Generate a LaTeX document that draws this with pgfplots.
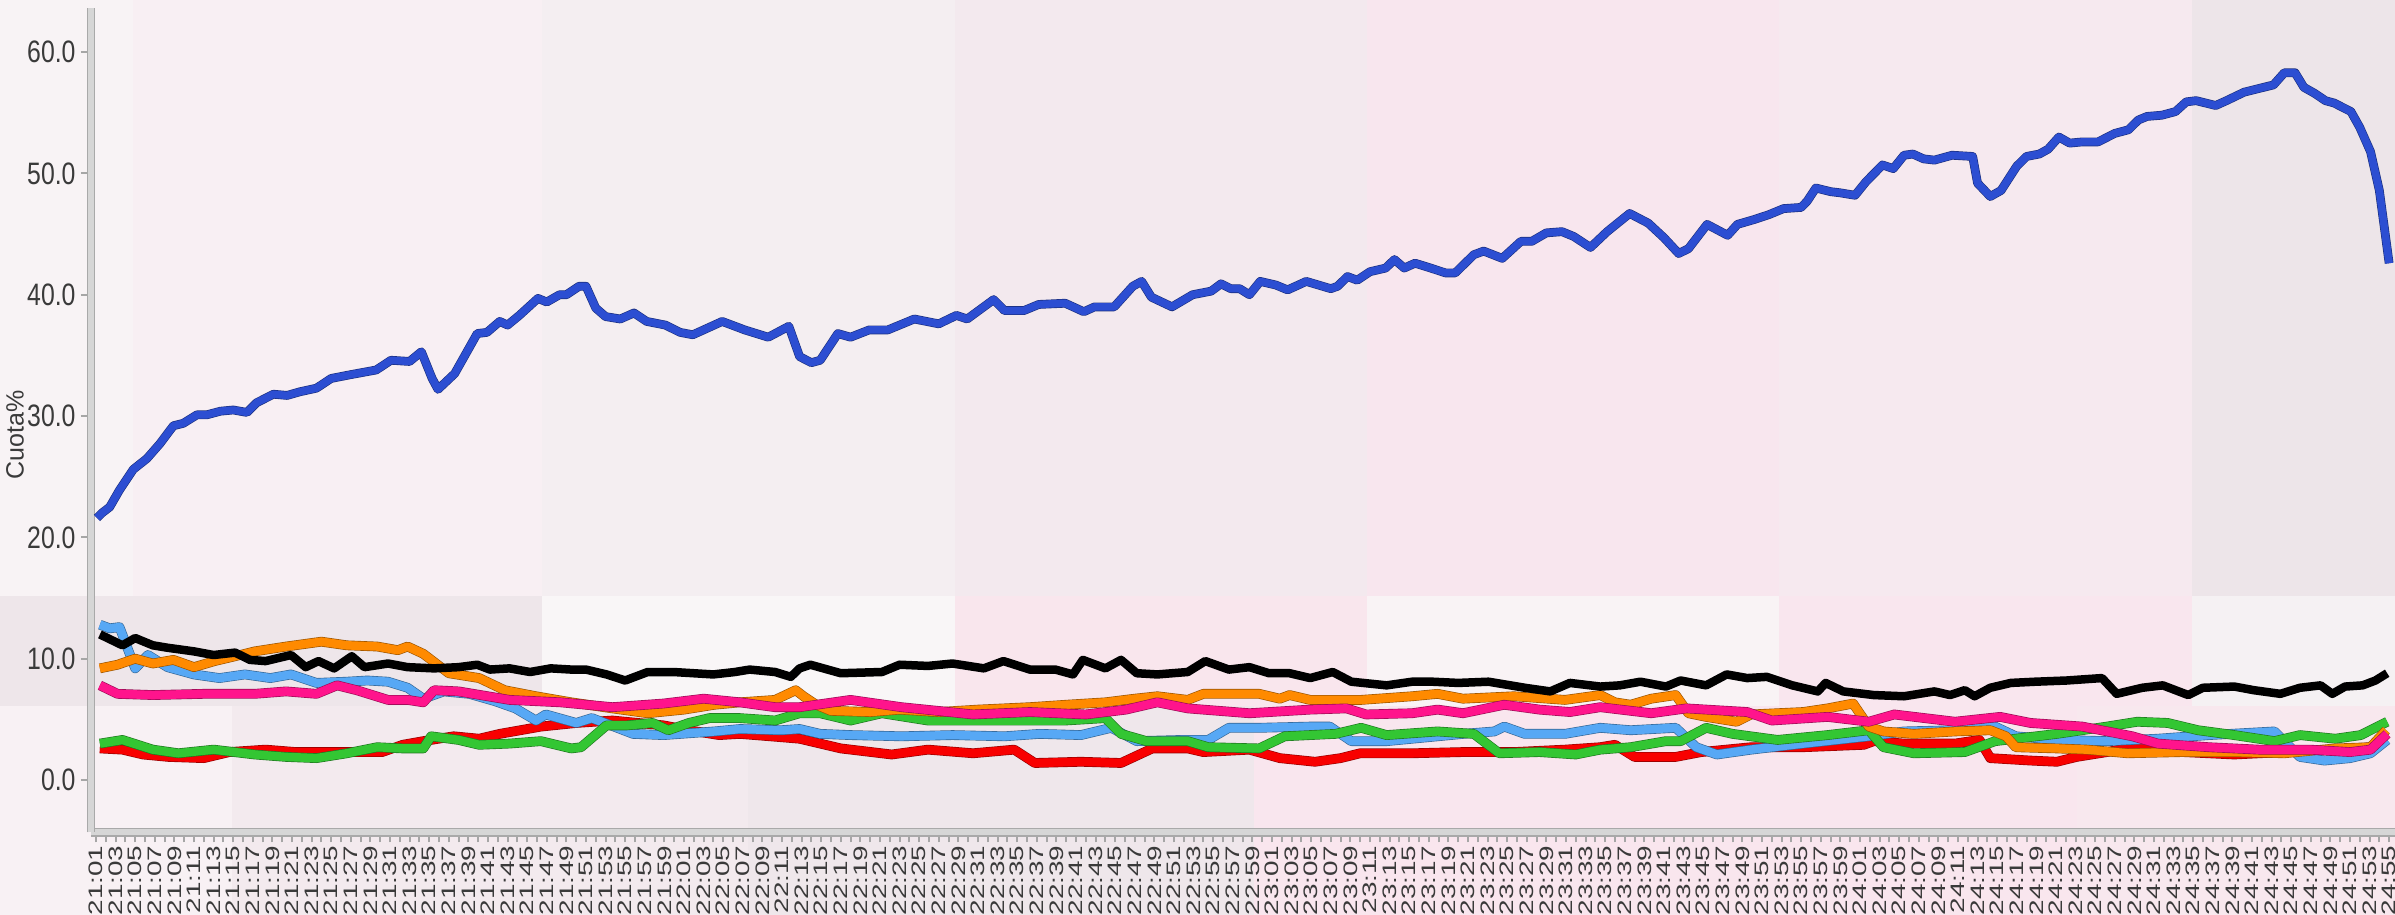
\documentclass[border=0pt]{standalone}
\usepackage{pgfplots}
\pgfplotsset{compat=1.18}
\usepackage{fontspec}
\setmainfont{Liberation Sans}
\newfontfamily\ylabfont[FakeStretch=0.8]{Liberation Sans}
\newfontfamily\xlabfont[FakeStretch=1.43]{Liberation Sans}
\definecolor{labgray}{HTML}{3A3A3A}
\definecolor{axisgray}{HTML}{D6D6D6}
\definecolor{axisdark}{HTML}{A9A9A9}
\definecolor{cBlue}{HTML}{2C4ED2}
\definecolor{cLBlue}{HTML}{57A8F5}
\definecolor{cOrange}{HTML}{FF8A00}
\definecolor{cPink}{HTML}{FF148C}
\definecolor{cGreen}{HTML}{33C633}
\definecolor{cRed}{HTML}{F80000}
\definecolor{bgBase}{HTML}{F7F1F4}
\begin{document}
\begin{tikzpicture}
\begin{scope}[x=0.4pt,y=-0.4pt,yshift=366pt]
\fill[bgBase] (0,0) rectangle (2395,915);
% top band
\fill[fill={rgb,255:red,248;green,243;blue,245}] (0,0) rectangle (133,596);
\fill[fill={rgb,255:red,248;green,239;blue,243}] (133,0) rectangle (542,596);
\fill[fill={rgb,255:red,244;green,238;blue,241}] (542,0) rectangle (955,596);
\fill[fill={rgb,255:red,243;green,233;blue,238}] (955,0) rectangle (1367,596);
\fill[fill={rgb,255:red,248;green,230;blue,238}] (1367,0) rectangle (1779,596);
\fill[fill={rgb,255:red,246;green,233;blue,239}] (1779,0) rectangle (2192,596);
\fill[fill={rgb,255:red,237;green,229;blue,233}] (2192,0) rectangle (2395,596);
% middle band
\fill[fill={rgb,255:red,238;green,230;blue,234}] (0,596) rectangle (542,706);
\fill[fill={rgb,255:red,249;green,246;blue,247}] (542,596) rectangle (955,706);
\fill[fill={rgb,255:red,249;green,230;blue,237}] (955,596) rectangle (1367,706);
\fill[fill={rgb,255:red,249;green,243;blue,245}] (1367,596) rectangle (1779,706);
\fill[fill={rgb,255:red,249;green,230;blue,238}] (1779,596) rectangle (2192,706);
\fill[fill={rgb,255:red,245;green,241;blue,243}] (2192,596) rectangle (2395,706);
% bottom band
\fill[fill={rgb,255:red,248;green,241;blue,244}] (0,706) rectangle (232,915);
\fill[fill={rgb,255:red,243;green,234;blue,238}] (232,706) rectangle (748,915);
\fill[fill={rgb,255:red,239;green,231;blue,235}] (748,706) rectangle (1254,915);
\fill[fill={rgb,255:red,249;green,230;blue,238}] (1254,706) rectangle (2077,915);
\fill[fill={rgb,255:red,248;green,232;blue,238}] (2077,706) rectangle (2395,915);
\end{scope}
\node[rotate=90, text=labgray, font=\fontsize{10}{12}\selectfont] at (6pt,192pt) {Cuota\%};
\begin{axis}[
  at={(36.4pt,33pt)}, anchor=south west,
  scale only axis, width=921.6pt, height=329.8pt,
  xmin=0.49, xmax=235.6, ymin=-4.33, ymax=63.64,
  axis lines*=left,
  axis line style={-, draw=axisgray, line width=2.4pt, preaction={draw=axisdark, line width=3.4pt}},
  tick align=outside,
  major tick length=4pt, minor tick length=4pt,
  every tick/.style={draw=gray!70, line width=0.8pt},
  xtick={1,3,...,235}, minor xtick={2,4,...,234},
  ytick={0,10,...,60},
  /pgf/number format/assume math mode=true,
  xticklabel={\pgfmathtruncatemacro{\mi}{round(\tick)}\pgfmathtruncatemacro{\hh}{21+floor(\mi/60)}\pgfmathtruncatemacro{\mm}{\mi-60*floor(\mi/60)}\xlabfont\hh:\ifnum\mm<10 0\fi\mm},
  xticklabel style={rotate=90, anchor=east, inner sep=1pt, font=\fontsize{7.8}{8}\selectfont, text=labgray},
  yticklabel={\ylabfont\pgfmathprintnumber[fixed,fixed zerofill,precision=1]{\tick}},
  yticklabel style={font=\fontsize{12.4}{14}\selectfont, text=labgray, inner sep=2pt},
  every axis plot/.append style={line join=round, mark=none},
  clip=false,
]
% red
\addplot[draw=cRed, line width=3.4pt, preaction={draw=cRed!60!black, line width=3.9pt}] table {
x y
1.4 2.6
3.7 2.5
5.8 2.1
8.4 1.9
12.0 1.8
14.6 2.3
18.3 2.5
21.4 2.3
24.5 2.3
27.6 2.3
30.2 2.3
32.3 2.9
34.4 3.2
37.5 3.6
40.1 3.4
42.2 3.8
46.4 4.4
50.0 4.7
53.7 4.9
58.9 4.5
61.5 4.1
64.6 3.7
66.7 3.8
69.8 3.6
72.8 3.4
77.0 2.6
82.2 2.1
85.9 2.5
90.5 2.2
94.7 2.5
96.8 1.4
101.5 1.5
105.6 1.4
108.8 2.6
112.4 2.6
114.0 2.3
118.7 2.5
121.8 1.8
125.4 1.5
128.0 1.8
130.0 2.2
135.3 2.2
140.5 2.3
145.7 2.3
150.9 2.5
154.5 2.7
156.0 2.9
158.0 1.9
162.2 1.9
164.8 2.3
169.9 2.7
175.2 2.7
181.4 2.9
182.4 3.2
185.5 3.0
190.7 3.0
193.2 3.3
194.3 1.8
198.4 1.6
201.1 1.5
203.1 1.9
206.2 2.3
208.8 2.7
214.0 2.3
219.2 2.1
224.3 2.3
229.5 2.5
233.1 2.7
234.7 3.4
};
% light blue
\addplot[draw=cLBlue, line width=3.4pt, preaction={draw=cLBlue!60!black, line width=3.9pt}] table {
x y
1.4 12.8
2.4 12.5
3.4 12.6
5.0 9.2
6.3 10.3
8.3 9.3
11.0 8.7
13.6 8.4
16.2 8.7
18.8 8.4
20.9 8.7
23.5 8.0
26.6 8.1
28.7 8.2
30.8 8.1
32.8 7.6
34.4 6.7
36.5 7.3
39.1 7.1
41.7 6.5
43.8 5.9
45.9 4.9
46.9 5.4
50.0 4.7
51.6 5.1
55.8 3.8
58.9 3.7
64.1 4.0
66.7 4.2
70.9 4.1
72.8 4.2
74.9 3.8
78.0 3.7
83.2 3.6
88.4 3.7
93.7 3.6
97.3 3.8
101.5 3.7
104.6 4.3
107.2 3.2
111.9 3.3
114.5 3.3
116.6 4.3
119.7 4.3
124.9 4.4
126.9 4.4
129.1 3.2
132.7 3.2
135.3 3.4
140.5 3.8
143.7 4.0
144.7 4.4
146.8 3.8
150.9 3.8
154.5 4.3
157.6 4.1
162.2 4.3
164.3 2.7
166.4 2.1
169.9 2.5
175.2 3.0
181.9 3.6
185.5 4.0
190.7 4.1
194.8 4.4
196.9 3.6
201.1 3.3
206.2 3.2
211.4 3.4
216.6 3.7
223.3 4.0
225.9 1.9
228.4 1.6
231.0 1.8
233.1 2.2
234.8 3.3
};
% green
\addplot[draw=cGreen, line width=3.4pt, preaction={draw=cGreen!60!black, line width=3.9pt}] table {
x y
1.4 3.0
3.7 3.3
6.8 2.5
9.4 2.2
13.0 2.5
17.2 2.1
20.4 1.9
23.5 1.8
26.6 2.2
29.7 2.7
32.3 2.6
34.4 2.6
35.2 3.6
38.0 3.3
40.1 2.9
43.2 3.0
46.4 3.2
49.5 2.6
50.5 2.7
53.1 4.5
55.2 4.5
57.8 4.7
59.4 4.1
61.5 4.7
63.6 5.1
66.7 5.1
70.3 4.9
72.8 5.5
74.9 5.5
78.0 4.9
81.2 5.5
85.9 4.9
90.0 4.9
95.2 4.9
99.9 4.9
104.0 5.1
105.6 3.8
108.2 3.2
112.4 3.2
114.5 2.7
119.7 2.6
122.3 3.6
127.5 3.8
130.1 4.3
132.7 3.7
137.9 4.0
141.6 3.8
144.2 2.2
148.3 2.3
152.0 2.1
154.5 2.5
157.6 2.7
161.2 3.2
162.7 3.2
165.3 4.3
168.0 3.8
172.6 3.3
177.7 3.7
181.9 4.1
183.4 2.7
186.5 2.2
191.7 2.3
194.8 3.2
201.1 3.8
206.2 4.4
209.3 4.8
212.4 4.7
215.5 4.1
219.2 3.7
223.3 3.2
225.9 3.7
229.5 3.4
232.1 3.7
234.8 4.8
};
% orange
\addplot[draw=cOrange, line width=3.4pt, preaction={draw=cOrange!60!black, line width=3.9pt}] table {
x y
1.4 9.2
3.2 9.5
5.0 10.0
6.8 9.6
8.9 9.9
11.0 9.3
13.1 9.8
15.2 10.2
17.2 10.6
20.4 11.0
24.0 11.4
26.6 11.1
29.7 11.0
31.8 10.7
32.8 11.0
34.4 10.4
35.7 9.6
37.0 8.8
40.1 8.4
42.7 7.4
45.9 6.9
49.5 6.4
53.7 5.9
57.3 5.5
61.0 5.8
64.1 6.2
66.7 6.4
70.3 6.6
72.4 7.4
73.2 6.9
74.5 6.2
76.0 5.7
80.0 5.6
83.0 5.8
87.0 5.6
91.0 5.8
96.3 6.0
100.0 6.2
104.0 6.4
107.0 6.7
109.3 6.9
112.4 6.6
114.0 7.1
119.7 7.1
121.8 6.7
122.8 7.0
124.9 6.6
130.1 6.6
135.3 6.9
137.9 7.1
140.5 6.7
145.7 6.9
150.9 6.6
154.5 7.0
156.0 6.4
157.6 6.2
159.7 6.7
162.2 7.0
163.5 5.5
165.3 5.2
168.4 4.8
169.9 5.4
175.2 5.6
177.7 5.9
180.3 6.3
181.9 4.4
183.4 4.0
186.5 3.8
190.7 4.0
194.3 4.1
195.9 3.6
196.9 2.7
201.1 2.6
204.2 2.5
208.3 2.2
213.9 2.3
219.2 2.3
224.3 2.2
229.5 2.6
233.1 2.7
234.7 4.1
};
% pink
\addplot[draw=cPink, line width=3.4pt, preaction={draw=cPink!60!black, line width=3.9pt}] table {
x y
1.4 7.8
3.2 7.1
6.8 7.0
12.0 7.1
17.2 7.1
20.4 7.3
23.5 7.1
25.6 7.8
27.6 7.4
30.8 6.6
32.8 6.6
34.4 6.4
35.5 7.4
38.0 7.3
43.2 6.6
48.4 6.4
53.7 6.0
58.9 6.3
63.0 6.7
66.7 6.4
70.3 6.0
72.8 6.0
78.0 6.6
83.2 6.0
90.5 5.4
96.3 5.6
102.0 5.4
106.1 5.8
109.3 6.4
112.4 5.9
118.7 5.5
124.9 5.8
128.6 5.9
130.6 5.4
135.3 5.5
137.9 5.8
140.5 5.5
144.7 6.2
148.3 5.8
151.4 5.6
154.5 6.0
159.7 5.5
163.3 5.9
169.5 5.6
172.0 4.9
177.7 5.2
181.9 4.8
184.5 5.4
190.7 4.8
195.3 5.2
198.4 4.7
203.7 4.4
208.8 3.6
211.4 3.0
216.6 2.7
221.7 2.5
226.9 2.5
231.0 2.3
233.1 2.5
234.8 3.8
};
% black
\addplot[draw=black, line width=3.4pt] table {
x y
1.4 12.0
3.7 11.1
5.0 11.7
6.8 11.1
8.3 10.9
11.0 10.6
13.0 10.3
15.2 10.5
16.7 9.9
18.3 9.8
20.9 10.3
22.4 9.3
23.7 9.8
25.3 9.2
27.1 10.2
28.4 9.3
30.8 9.6
32.8 9.3
35.5 9.2
38.0 9.3
39.9 9.5
41.2 9.1
43.2 9.2
45.3 8.9
47.4 9.2
49.5 9.1
51.0 9.1
53.1 8.7
55.0 8.2
57.3 8.9
59.9 8.9
64.0 8.7
66.2 8.9
67.7 9.1
70.3 8.9
71.9 8.5
72.8 9.2
73.9 9.5
77.0 8.8
81.2 8.9
83.0 9.5
85.9 9.4
88.4 9.6
91.6 9.2
93.6 9.8
96.3 9.1
98.9 9.1
100.7 8.7
101.7 9.9
104.0 9.2
105.6 9.9
107.2 8.8
109.3 8.7
112.4 8.9
114.2 9.8
116.6 9.1
118.7 9.3
120.7 8.8
122.8 8.8
124.9 8.4
127.2 8.9
129.1 8.1
132.7 7.8
135.3 8.1
137.4 8.1
140.0 8.0
143.1 8.1
146.8 7.6
149.4 7.3
151.4 8.0
154.5 7.7
156.5 7.8
158.6 8.1
161.2 7.7
162.7 8.2
165.3 7.8
167.4 8.7
169.5 8.4
171.5 8.5
174.1 7.8
176.7 7.3
177.5 8.0
179.3 7.3
182.4 7.0
185.5 6.9
188.6 7.3
190.2 7.0
191.7 7.4
192.7 6.9
194.3 7.6
196.4 8.0
198.9 8.1
202.1 8.2
205.7 8.4
207.2 7.1
209.8 7.6
211.9 7.8
214.5 7.0
216.0 7.6
219.2 7.7
221.2 7.4
223.9 7.1
225.9 7.6
228.0 7.8
229.2 7.1
230.5 7.7
232.3 7.8
233.6 8.2
234.8 8.8
};
% blue
\addplot[draw=cBlue, line width=3.0pt, preaction={draw=cBlue!60!black, line width=3.5pt}] table {
x y
1.1 21.6
1.6 22.0
2.4 22.5
3.4 23.9
4.8 25.6
6.2 26.5
7.5 27.7
8.9 29.2
9.9 29.4
11.3 30.1
12.3 30.1
13.7 30.4
15.0 30.5
16.4 30.3
17.4 31.1
19.1 31.8
20.5 31.7
21.8 32.0
23.5 32.3
25.0 33.1
26.9 33.4
29.6 33.8
31.1 34.6
33.0 34.5
34.2 35.3
35.3 33.1
35.9 32.2
37.6 33.5
39.9 36.8
40.9 36.9
42.2 37.8
43.0 37.5
44.2 38.3
46.1 39.7
47.0 39.4
48.3 40.0
49.0 40.0
50.3 40.7
51.0 40.7
52.0 38.9
53.0 38.2
54.5 38.0
55.9 38.5
57.2 37.8
59.1 37.5
60.6 36.9
61.9 36.7
64.9 37.8
67.2 37.1
69.6 36.5
71.7 37.4
72.8 34.9
74.0 34.4
74.9 34.6
76.7 36.8
78.0 36.5
79.9 37.1
81.8 37.1
84.5 38.0
87.0 37.6
88.8 38.3
89.9 38.0
92.6 39.6
93.7 38.7
95.7 38.7
97.2 39.2
99.9 39.3
101.8 38.6
102.9 39.0
104.9 39.0
106.8 40.7
107.7 41.1
108.7 39.8
110.8 39.0
112.9 40.0
114.8 40.3
115.8 40.9
116.8 40.5
117.7 40.5
118.7 40.0
119.8 41.1
121.4 40.8
122.6 40.4
124.5 41.1
127.0 40.5
127.7 40.7
128.7 41.5
129.7 41.2
131.0 41.9
132.6 42.2
133.5 42.9
134.5 42.2
135.6 42.6
137.2 42.2
138.7 41.8
139.7 41.8
141.6 43.3
142.6 43.6
144.5 43.0
146.4 44.4
147.5 44.4
149.0 45.1
150.6 45.2
151.8 44.8
153.5 43.9
155.2 45.2
157.5 46.7
159.4 45.9
161.0 44.7
162.5 43.4
163.5 43.8
165.4 45.8
167.5 44.9
168.5 45.8
170.2 46.2
171.7 46.6
173.2 47.1
175.0 47.2
175.6 47.7
176.5 48.8
178.0 48.5
179.0 48.4
180.5 48.2
181.6 49.3
183.3 50.7
184.4 50.4
185.5 51.5
186.4 51.6
187.5 51.2
188.6 51.1
190.4 51.5
192.5 51.4
193.0 49.2
194.3 48.1
195.4 48.6
197.0 50.6
198.0 51.4
199.3 51.6
200.2 52.0
201.3 53.0
202.4 52.5
203.7 52.6
205.3 52.6
207.0 53.3
208.4 53.6
209.4 54.4
210.3 54.7
211.8 54.8
213.2 55.1
214.3 55.9
215.3 56.0
217.3 55.6
218.4 56.0
220.2 56.7
221.7 57.0
223.2 57.3
224.3 58.3
225.4 58.3
226.3 57.1
227.4 56.6
228.5 56.0
229.4 55.8
231.1 55.1
232.0 53.8
233.1 51.8
234.0 48.6
235.0 42.6
};
\end{axis}
\pgfresetboundingbox
\path[use as bounding box] (0,0) rectangle (958pt,366pt);
\end{tikzpicture}
\end{document}
